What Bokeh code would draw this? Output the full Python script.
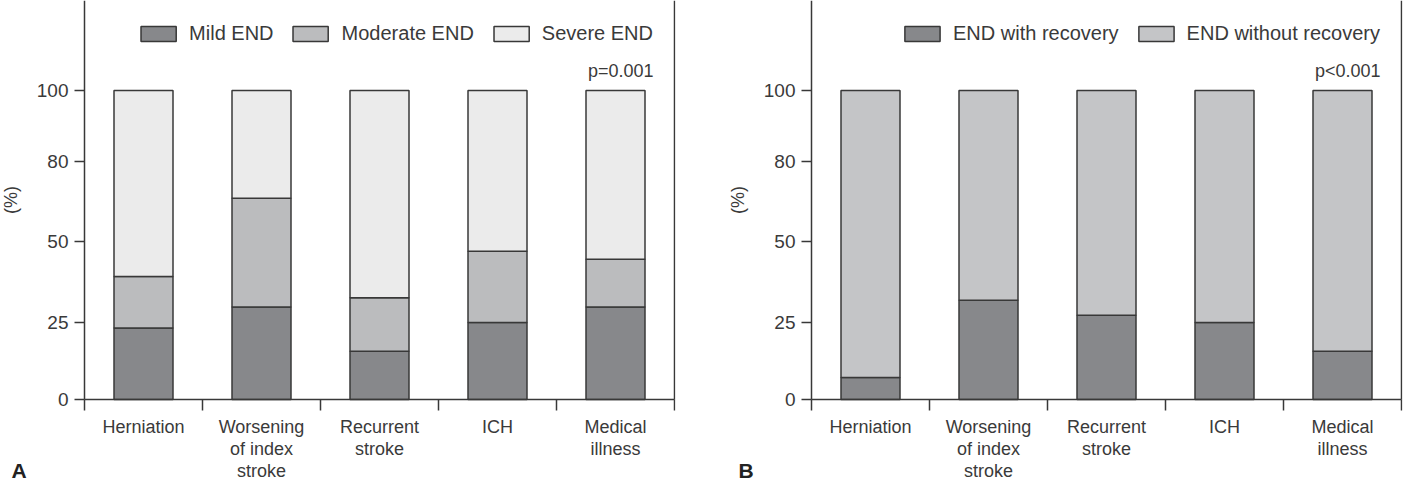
from bokeh.plotting import figure
from bokeh.layouts import row
from bokeh.models import ColumnDataSource, FixedTicker, Label, Range1d, LinearAxis
from bokeh.embed import file_html
from bokeh.resources import INLINE

# ---- data ----
categories = ["Herniation", "Worsening of index stroke", "Recurrent stroke", "ICH", "Medical illness"]
category_labels = ["Herniation", "Worsening\nof index\nstroke", "Recurrent\nstroke", "ICH", "Medical\nillness"]

mild_end = [23.1, 29.9, 15.6, 24.9, 29.9]
moderate_end = [16.7, 35.2, 17.3, 23.1, 15.5]
severe_end = [60.2, 34.9, 67.1, 52.0, 54.6]

with_recovery = [7.1, 32.1, 27.3, 24.9, 15.6]
without_recovery = [92.9, 67.9, 72.7, 75.1, 84.4]

y_tick_positions = [0, 25, 51, 77, 100]
y_tick_labels = ["0", "25", "50", "80", "100"]

legend_a = ["Mild END", "Moderate END", "Severe END"]
legend_b = ["END with recovery", "END without recovery"]
colors_a = ["#87888b", "#bbbcbe", "#ebebeb"]
colors_b = ["#87888b", "#c4c5c7"]

FONT = "Liberation Sans"
TXT = "#3a3a3a"
LINE = "#383838"

# layout (pixels)
LEFT_PX = 84.0      # space left of the y axis
CAT_PX = 118.0      # width of one category
UNIT_PX = 3.09      # pixels per percent
TOP_PX = 399.0      # baseline position from top
H = 481


def make_panel(width, frame_w, stack_values, names, colors, p_text, panel_letter):
    n = len(categories)
    centers = [i + 0.5 for i in range(n)]
    bounds = list(range(n + 1))
    data = {"x": centers}
    keys = []
    for i, vals in enumerate(stack_values):
        k = "s%d" % i
        keys.append(k)
        data[k] = vals
    src = ColumnDataSource(data)

    x0 = -LEFT_PX / CAT_PX
    x1 = (frame_w - LEFT_PX) / CAT_PX
    y1 = TOP_PX / UNIT_PX
    y0 = -(H - TOP_PX) / UNIT_PX

    p = figure(width=width, height=H, x_range=Range1d(x0, x1), y_range=Range1d(y0, y1),
               output_backend="svg", toolbar_location=None,
               min_border_left=0, min_border_right=width - frame_w,
               min_border_top=0, min_border_bottom=0)
    p.outline_line_color = None
    p.grid.visible = False
    p.background_fill_color = "white"
    p.border_fill_color = "white"

    p.vbar_stack(keys, x="x", width=0.5, source=src, fill_color=colors,
                 line_color=LINE, line_width=1.5, legend_label=names)

    # y axis (fixed at x = 0)
    ya = p.yaxis[0]
    ya.fixed_location = 0
    ya.bounds = (0, y1)
    ya.ticker = FixedTicker(ticks=y_tick_positions, minor_ticks=[])
    ya.major_label_overrides = {t: l for t, l in zip(y_tick_positions, y_tick_labels)}
    ya.axis_label = "(%)"
    ya.axis_label_text_font = FONT
    ya.axis_label_text_font_size = "18px"
    ya.axis_label_text_font_style = "normal"
    ya.axis_label_text_color = TXT
    ya.axis_label_standoff = 13
    ya.major_label_text_font = FONT
    ya.major_label_text_font_size = "19px"
    ya.major_label_text_color = TXT
    ya.major_label_standoff = 6
    ya.major_tick_out = 10
    ya.major_tick_in = 0
    ya.major_tick_line_color = LINE
    ya.major_tick_line_width = 1.5
    ya.axis_line_color = LINE
    ya.axis_line_width = 1.5

    # x axis (fixed at y = 0): labels at centres, ticks at category boundaries
    xa = p.xaxis[0]
    xa.fixed_location = 0
    xa.bounds = (0, n)
    xa.ticker = FixedTicker(ticks=centers, minor_ticks=bounds)
    xa.major_label_overrides = {c: l for c, l in zip(centers, category_labels)}
    xa.major_tick_out = 0
    xa.major_tick_in = 0
    xa.minor_tick_out = 11
    xa.minor_tick_in = 0
    xa.minor_tick_line_color = LINE
    xa.minor_tick_line_width = 1.5
    xa.axis_line_color = LINE
    xa.axis_line_width = 1.5
    xa.major_label_text_font = FONT
    xa.major_label_text_font_size = "18px"
    xa.major_label_text_color = TXT
    xa.major_label_text_line_height = 1.1
    xa.major_label_standoff = 6

    # right border line
    ra = LinearAxis(fixed_location=n, bounds=(0, y1), ticker=FixedTicker(ticks=[], minor_ticks=[]),
                    axis_line_color=LINE, axis_line_width=1.5,
                    major_label_text_font_size="0px")
    p.add_layout(ra, "right")

    # legend
    lg = p.legend[0]
    lg.orientation = "horizontal"
    lg.location = "top_right"
    lg.border_line_alpha = 0
    lg.background_fill_alpha = 0
    lg.glyph_width = 44
    lg.glyph_height = 19
    lg.label_height = 19
    lg.label_standoff = 9
    lg.spacing = 15
    lg.padding = 0
    lg.margin = 22
    lg.label_text_font = FONT
    lg.label_text_font_size = "20px"
    lg.label_text_color = TXT

    # p-value text
    p.add_layout(Label(x=n, y=(TOP_PX - 70.5) / UNIT_PX, text=p_text, x_offset=-21, text_align="right",
                       text_baseline="middle", text_font=FONT, text_font_size="18px",
                       text_color=TXT))
    # panel letter
    p.add_layout(Label(x=(11 - LEFT_PX) / CAT_PX, y=(TOP_PX - 470) / UNIT_PX, text=panel_letter,
                       text_align="left", text_baseline="middle", text_font=FONT,
                       text_font_size="21px", text_font_style="bold", text_color="#222222"))
    return p


pa = make_panel(727, 675, [mild_end, moderate_end, severe_end], legend_a, colors_a, "p=0.001", "A")
pb = make_panel(677, 675, [with_recovery, without_recovery], legend_b, colors_b, "p<0.001", "B")

layout = row(pa, pb)
open("out.html", "w").write(file_html(layout, INLINE))
